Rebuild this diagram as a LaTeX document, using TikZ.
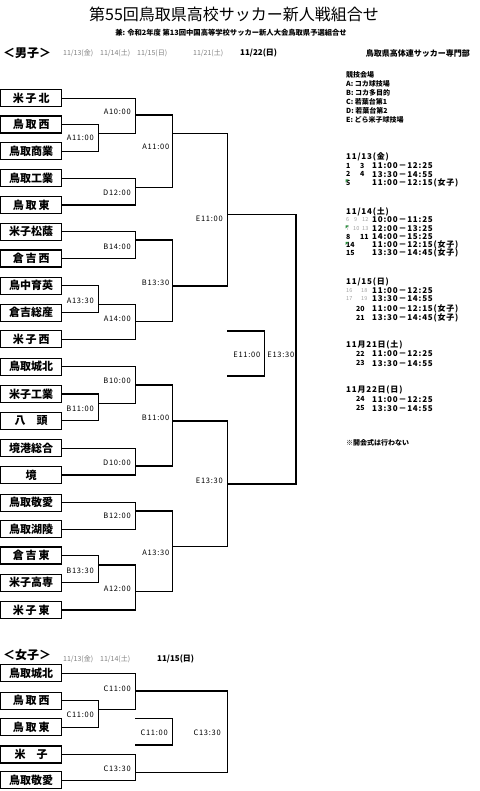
\documentclass[tikz,border=0pt]{standalone}
\usepackage{fontspec}
\setmainfont{Noto Sans CJK JP}
\definecolor{dategray}{RGB}{128,128,128}
\definecolor{numgray}{RGB}{160,160,160}
\definecolor{markgreen}{RGB}{40,140,60}
\tikzset{
  team/.style={draw, line width=1.2pt, minimum width=61pt, minimum height=17pt, inner sep=0pt,
    font=\fontsize{11}{11}\selectfont\bfseries},
  wire/.style={line width=1.2pt},
  lbl/.style={anchor=east, inner sep=0pt, font=\fontsize{7.5}{7.5}\selectfont\addfontfeatures{LetterSpace=10}},
  sched/.style={anchor=west, inner sep=0pt, font=\fontsize{8}{8}\selectfont\bfseries\addfontfeatures{LetterSpace=10}},
  num/.style={anchor=west, inner sep=0pt, font=\fontsize{7}{7}\selectfont\bfseries},
  gnum/.style={anchor=west, inner sep=0pt, text=numgray, font=\fontsize{5.5}{5.5}\selectfont},
  info/.style={anchor=west, inner sep=0pt, font=\fontsize{7}{7}\selectfont\bfseries},
  gdate/.style={anchor=west, inner sep=0pt, text=dategray, font=\fontsize{7}{7}\selectfont},
  bdate/.style={anchor=west, inner sep=0pt, font=\fontsize{8}{8}\selectfont\bfseries},
  section/.style={anchor=west, inner sep=0pt, font=\fontsize{12}{12}\selectfont\bfseries},
  notetri/.style={fill=markgreen}
}
\begin{document}
\begin{tikzpicture}[x=1pt,y=-1pt]
\useasboundingbox (0,0) rectangle (479,791);

% ---------- headings ----------
\node[font=\fontsize{16}{16}\selectfont] (title) at (234,14.5) {第55回鳥取県高校サッカー新人戦組合せ};
\node[font=\fontsize{7.3}{7.3}\selectfont\bfseries] (sub) at (231,33) {兼: 令和2年度 第13回中国高等学校サッカー新人大会鳥取県予選組合せ};
\node[section] (boys) at (3,53.3) {＜男子＞};
\node[gdate] (d13) at (63,53.3) {11/13(金)};
\node[gdate] (d14) at (100,53.3) {11/14(土)};
\node[gdate] (d15) at (137,53.3) {11/15(日)};
\node[gdate] (d21) at (193,53.3) {11/21(土)};
\node[bdate] (d22) at (240,53.3) {11/22(日)};
\node[anchor=east, inner sep=0pt, font=\fontsize{8}{8}\selectfont\bfseries] (org) at (470,53.3) {鳥取県高体連サッカー専門部};

% ---------- boys teams ----------
\node[team] (t0) at (31.2,98.3) {米\,子\,北};
\node[team] (t1) at (31.2,124.5) {鳥\,取\,西};
\node[team] (t2) at (31.2,151.3) {鳥取商業};
\node[team] (t3) at (31.2,178.3) {鳥取工業};
\node[team] (t4) at (31.2,205) {鳥\,取\,東};
\node[team] (t5) at (31.2,231.7) {米子松蔭};
\node[team] (t6) at (31.2,258.5) {倉\,吉\,西};
\node[team] (t7) at (31.2,285.7) {鳥中育英};
\node[team] (t8) at (31.2,312.7) {倉吉総産};
\node[team] (t9) at (31.2,339.3) {米\,子\,西};
\node[team] (t10) at (31.2,366.7) {鳥取城北};
\node[team] (t11) at (31.2,394) {米子工業};
\node[team] (t12) at (31.2,420.7) {八　頭};
\node[team] (t13) at (31.2,448.3) {境港総合};
\node[team] (t14) at (31.2,475) {境};
\node[team] (t15) at (31.2,502.7) {鳥取敬愛};
\node[team] (t16) at (31.2,529.3) {鳥取湖陵};
\node[team] (t17) at (31.2,555.5) {倉\,吉\,東};
\node[team] (t18) at (31.2,582.7) {米子高専};
\node[team] (t19) at (31.2,610) {米\,子\,東};

% ---------- boys round 1 ----------
\coordinate (mA11) at (98.3,133.3);
\coordinate (mA1330) at (98.3,304.3);
\coordinate (mB11) at (98.3,403.3);
\coordinate (mB1330) at (98.3,565);
\draw[wire] (t1.east) -| (mA11) |- (t2.east);
\draw[wire] (t7.east) -| (mA1330) |- (t8.east);
\draw[wire] (t11.east) -| (mB11) |- (t12.east);
\draw[wire] (t17.east) -| (mB1330) |- (t18.east);
\node[lbl] (lA11) at (94,138.3) {A11:00};
\node[lbl] (lA1330) at (94,300.7) {A13:30};
\node[lbl] (lB11) at (94,408.3) {B11:00};
\node[lbl] (lB1330) at (94,570.7) {B13:30};

% ---------- boys round 2 ----------
\coordinate (mA10) at (135.3,115);
\coordinate (mD12) at (135.3,187.3);
\coordinate (mB14) at (135.3,240);
\coordinate (mA14) at (135.3,321.7);
\coordinate (mB10) at (135.3,385);
\coordinate (mD10) at (135.3,466);
\coordinate (mB12) at (135.3,511);
\coordinate (mA12) at (135.3,591.7);
\draw[wire] (t0.east) -| (mA10) |- (mA11);
\draw[wire] (t3.east) -| (mD12) |- (t4.east);
\draw[wire] (t5.east) -| (mB14) |- (t6.east);
\draw[wire] (mA1330) -| (mA14) |- (t9.east);
\draw[wire] (t10.east) -| (mB10) |- (mB11);
\draw[wire] (t13.east) -| (mD10) |- (t14.east);
\draw[wire] (t15.east) -| (mB12) |- (t16.east);
\draw[wire] (mB1330) -| (mA12) |- (t19.east);
\node[lbl] (lA10) at (131,111.7) {A10:00};
\node[lbl] (lD12) at (131,193) {D12:00};
\node[lbl] (lB14) at (131,246.7) {B14:00};
\node[lbl] (lA14) at (131,318.3) {A14:00};
\node[lbl] (lB10) at (131,381) {B10:00};
\node[lbl] (lD10) at (131,462.7) {D10:00};
\node[lbl] (lB12) at (131,516) {B12:00};
\node[lbl] (lA12) at (131,589) {A12:00};

% ---------- boys round 3 ----------
\coordinate (nA11) at (172.3,133.3);
\coordinate (nB1330) at (172.3,286);
\coordinate (nB11) at (172.3,421);
\coordinate (nA1330) at (172.3,546.7);
\draw[wire] (mA10) -| (nA11) |- (mD12);
\draw[wire] (mB14) -| (nB1330) |- (mA14);
\draw[wire] (mB10) -| (nB11) |- (mD10);
\draw[wire] (mB12) -| (nA1330) |- (mA12);
\node[lbl] (lnA11) at (169.5,146.7) {A11:00};
\node[lbl] (lnB1330) at (169.5,282.3) {B13:30};
\node[lbl] (lnB11) at (169.5,417.3) {B11:00};
\node[lbl] (lnA1330) at (169.5,552.3) {A13:30};

% ---------- boys semifinals ----------
\coordinate (eE11) at (227.3,214.3);
\coordinate (eE1330) at (227.3,484);
\draw[wire] (nA11) -| (eE11) |- (nB1330);
\draw[wire] (nB11) -| (eE1330) |- (nA1330);
\node[lbl] (leE11) at (223,219.3) {E11:00};
\node[lbl] (leE1330) at (223,480.7) {E13:30};

% ---------- boys final and small bracket ----------
\coordinate (fin) at (296,349);
\draw[wire] (eE11) -| (fin) |- (eE1330);
\coordinate (s1) at (227.3,331);
\coordinate (s2) at (264.3,353.5);
\coordinate (s3) at (227.3,376);
\draw[wire] (s1) -| (s2) |- (s3);
\node[lbl] (ls) at (260.5,354.3) {E11:00};
\node[lbl] (lfin) at (294.5,354.3) {E13:30};

% ---------- right-hand information ----------
\node[info] (v0) at (346,75) {競技会場};
\node[info] (v1) at (346,84) {A: コカ球技場};
\node[info] (v2) at (346,92.7) {B: コカ多目的};
\node[info] (v3) at (346,101.7) {C: 若葉台第1};
\node[info] (v4) at (346,110.7) {D: 若葉台第2};
\node[info] (v5) at (346,119.7) {E: どら米子球技場};

\node[sched] (h13) at (346,157.3) {11/13(金)};
\node[num] (a1) at (346,166) {1};
\node[num] (a3) at (360,166) {3};
\node[sched] (s13a) at (372,166) {11:00－12:25};
\node[num] (a2) at (346,174.3) {2};
\node[num] (a4) at (360,174.3) {4};
\node[sched] (s13b) at (372,174.3) {13:30－14:55};
\node[num] (a5) at (346,182.7) {5};
\node[sched] (s13c) at (372,182.7) {11:00－12:15(女子)};
\fill[notetri] (345.5,179.5) -- ++(3,0) -- ++(-3,3) -- cycle;

\node[sched] (h14) at (346,211.7) {11/14(土)};
\node[gnum] (a6) at (346,220) {6};
\node[gnum] (a9) at (354,220) {9};
\node[gnum] (a12) at (362,220) {12};
\node[sched] (s14a) at (372,220) {10:00－11:25};
\node[gnum] (a7) at (346,228.3) {7};
\node[gnum] (a10) at (353,228.3) {10};
\node[gnum] (a13) at (362,228.3) {13};
\node[sched] (s14b) at (372,228.3) {12:00－13:25};
\fill[notetri] (345.5,225.5) -- ++(3,0) -- ++(-3,3) -- cycle;
\node[num] (a8) at (346,236.7) {8};
\node[num] (a11) at (360,236.7) {11};
\node[sched] (s14c) at (372,236.7) {14:00－15:25};
\node[num] (a14) at (346,245) {14};
\node[sched] (s14d) at (372,245) {11:00－12:15(女子)};
\fill[notetri] (345.5,242) -- ++(3,0) -- ++(-3,3) -- cycle;
\node[num] (a15) at (346,253.3) {15};
\node[sched] (s14e) at (372,253.3) {13:30－14:45(女子)};

\node[sched] (h15) at (346,281.7) {11/15(日)};
\node[gnum] (a16) at (346,290.7) {16};
\node[gnum] (a18) at (361,290.7) {18};
\node[sched] (s15a) at (372,290.7) {11:00－12:25};
\node[gnum] (a17) at (346,299) {17};
\node[gnum] (a19) at (361,299) {19};
\node[sched] (s15b) at (372,299) {13:30－14:55};
\node[num] (a20) at (356,309.3) {20};
\node[sched] (s15c) at (372,309.3) {11:00－12:15(女子)};
\node[num] (a21) at (356,318.3) {21};
\node[sched] (s15d) at (372,318.3) {13:30－14:45(女子)};

\node[sched] (h21) at (346,345) {11月21日(土)};
\node[num] (a22) at (356,354) {22};
\node[sched] (s21a) at (372,354) {11:00－12:25};
\node[num] (a23) at (356,363.3) {23};
\node[sched] (s21b) at (372,363.3) {13:30－14:55};

\node[sched] (h22) at (346,390) {11月22日(日)};
\node[num] (a24) at (356,399.3) {24};
\node[sched] (s22a) at (372,399.3) {11:00－12:25};
\node[num] (a25) at (356,408.3) {25};
\node[sched] (s22b) at (372,408.3) {13:30－14:55};

\node[info] (note) at (346,443.3) {※開会式は行わない};

% ---------- girls ----------
\node[section] (girls) at (3,655) {＜女子＞};
\node[gdate] (gd13) at (63,659) {11/13(金)};
\node[gdate] (gd14) at (100,659) {11/14(土)};
\node[bdate] (gd15) at (157,659) {11/15(日)};

\node[team] (f0) at (31.2,673.3) {鳥取城北};
\node[team] (f1) at (31.2,700.7) {鳥\,取\,西};
\node[team] (f2) at (31.2,727.3) {鳥\,取\,東};
\node[team] (f3) at (31.2,754.5) {米　子};
\node[team] (f4) at (31.2,780.3) {鳥取敬愛};

\coordinate (gR1) at (98.3,709.3);
\draw[wire] (f1.east) -| (gR1) |- (f2.east);
\node[lbl] (lgR1) at (94,715) {C11:00};
\coordinate (gR2) at (135.3,691);
\draw[wire] (f0.east) -| (gR2) |- (gR1);
\node[lbl] (lgR2) at (131,688.3) {C11:00};
\coordinate (gC1330) at (135.3,772.3);
\draw[wire] (f3.east) -| (gC1330) |- (f4.east);
\node[lbl] (lgC1330) at (131,768.3) {C13:30};
\coordinate (gfin) at (227.7,732);
\draw[wire] (gR2) -| (gfin) |- (gC1330);
\node[lbl] (lgfin) at (221,732.7) {C13:30};
\coordinate (g1) at (135.3,718.3);
\coordinate (g2) at (172.3,731.7);
\coordinate (g3) at (135.3,745);
\draw[wire] (g1) -| (g2) |- (g3);
\node[lbl] (lgs) at (168,732.7) {C11:00};
\end{tikzpicture}
\end{document}
